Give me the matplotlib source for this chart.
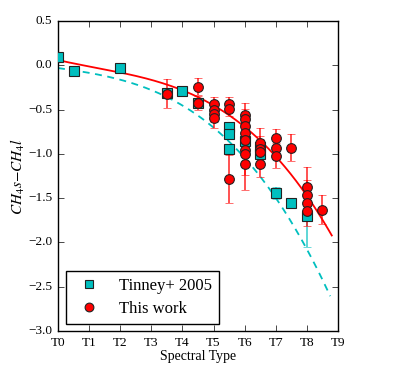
import numpy as np
import matplotlib
matplotlib.use("Agg")
import matplotlib.pyplot as plt

# ---------------- data ----------------
tick_pos = [0, 1, 2, 3, 4, 5, 6, 7, 8, 9]
tick_labels = ["T0", "T1", "T2", "T3", "T4", "T5", "T6", "T7", "T8", "T9"]
yticks = [0.5, 0.0, -0.5, -1.0, -1.5, -2.0, -2.5, -3.0]

# Tinney+ 2005
tin_sp = [0.0, 0.5, 2.0, 3.5, 4.0, 4.5, 5.5, 5.5, 5.5, 6.0, 6.5, 6.5, 7.0, 7.5, 8.0]
tin_val = [0.09, -0.06, -0.03, -0.31, -0.29, -0.43, -0.70, -0.78, -0.94, -0.86, -0.92, -1.00, -1.44, -1.55, -1.70]
tin_err = [0.03, 0.03, 0.04, 0.03, 0.03, 0.03, 0.03, 0.03, 0.03, 0.03, 0.03, 0.03, 0.07, 0.03, 0.35]

# This work
tw_sp = [3.5, 4.5, 4.5, 5.0, 5.0, 5.0, 5.0, 5.5, 5.5, 5.5,
         6.0, 6.0, 6.0, 6.0, 6.0, 6.0, 6.0, 6.0,
         6.5, 6.5, 6.5, 6.5, 7.0, 7.0, 7.0, 7.5,
         8.0, 8.0, 8.0, 8.0, 8.5]
tw_val = [-0.32, -0.24, -0.43, -0.44, -0.50, -0.55, -0.60, -0.44, -0.49, -1.28,
          -0.56, -0.61, -0.69, -0.76, -0.84, -0.96, -1.00, -1.11,
          -0.88, -0.95, -0.98, -1.11, -0.82, -0.93, -1.02, -0.93,
          -1.37, -1.47, -1.56, -1.65, -1.63]
tw_err = [0.16, 0.10, 0.08, 0.08, 0.09, 0.09, 0.11, 0.08, 0.08, 0.27,
          0.13, 0.12, 0.12, 0.12, 0.12, 0.12, 0.24, 0.30,
          0.17, 0.15, 0.15, 0.15, 0.10, 0.12, 0.14, 0.15,
          0.22, 0.18, 0.18, 0.16, 0.16]

# readings of the two fitted relations (spectral type, value)
fit_red_sp = [0.0, 1.67, 3.44, 4.5, 5.0, 6.17, 7.0, 7.68, 8.8]
fit_red_val = [0.045, -0.02, -0.226, -0.38, -0.46, -0.745, -1.02, -1.29, -1.94]
fit_cyan_sp = [0.0, 1.0, 3.0, 3.5, 5.2, 7.0, 8.0, 8.75]
fit_cyan_val = [-0.03, -0.09, -0.27, -0.36, -0.77, -1.51, -2.05, -2.62]

# ---------------- style ----------------
plt.style.use("classic")
plt.rcParams["font.family"] = ["Liberation Serif", "DejaVu Serif"]
plt.rcParams["mathtext.fontset"] = "stix"
plt.rcParams["figure.facecolor"] = "white"
plt.rcParams["savefig.facecolor"] = "white"

fig = plt.figure(figsize=(3.97, 3.75), dpi=100)
ax = fig.add_axes([58 / 397, 1 - 331 / 375, 280 / 397, 310 / 375])

# fitted curves
cr = np.polyfit(fit_red_sp, fit_red_val, 3)
xr = np.linspace(min(fit_red_sp), max(fit_red_sp), 200)
ax.plot(xr, np.polyval(cr, xr), color="r", lw=1.3, zorder=1)

cc = np.polyfit(fit_cyan_sp, fit_cyan_val, 3)
xc = np.linspace(min(fit_cyan_sp), max(fit_cyan_sp), 200)
ax.plot(xc, np.polyval(cc, xc), color="c", lw=1.3, ls=(0, (5, 4)), zorder=1)

# error bars
ax.errorbar(tin_sp, tin_val, yerr=tin_err, fmt="none", ecolor="c",
            elinewidth=1.1, capsize=3, alpha=0.8, zorder=2)
ax.errorbar(tw_sp, tw_val, yerr=tw_err, fmt="none", ecolor="r",
            elinewidth=1.2, capsize=3, alpha=0.8, zorder=3)

# markers
ax.plot(tin_sp, tin_val, ls="none", marker="s", ms=6.6, mfc="c", mec="#222222",
        mew=0.8, label="Tinney+ 2005", zorder=4)
ax.plot(tw_sp, tw_val, ls="none", marker="o", ms=7.0, mfc="r", mec="#222222",
        mew=0.8, label="This work", zorder=5)

ax.set_xlim(0, 9)
ax.set_ylim(-3.0, 0.5)
ax.set_xticks(tick_pos)
ax.set_xticklabels(tick_labels)
ax.set_yticks(yticks)
ax.tick_params(labelsize=9.5)

ax.set_xlabel("Spectral Type", fontsize=10, labelpad=1)
ax.set_ylabel(r"$CH_4s{-}CH_4l$", fontsize=11, labelpad=1)

leg = ax.legend(loc="lower left", numpoints=1, fontsize=12, frameon=True,
                fancybox=False, borderaxespad=0.45, labelspacing=0.42,
                markerscale=0.9)
leg.get_frame().set_edgecolor("black")
leg.get_frame().set_linewidth(1.0)

fig.savefig("out.png", dpi=100)
